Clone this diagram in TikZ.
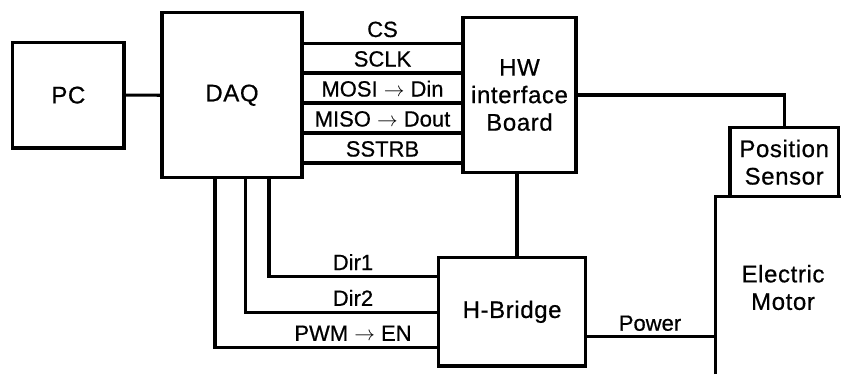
\documentclass[tikz,border=0pt]{standalone}
\usepackage{fontspec}
\setmainfont{Liberation Sans}[FakeBold=0.6]
\newfontfamily\bigfam{Liberation Sans}[FakeBold=0.6,LetterSpace=2.5]
\newcommand\bigfnt{\bigfam\fontsize{24bp}{27.5bp}\selectfont}
\newcommand\smallfnt{\fontsize{22bp}{24bp}\selectfont}
\begin{document}
\begin{tikzpicture}[x=1bp,y=-1bp,line width=3.1bp,line join=miter,
  box/.style={draw,rectangle,inner sep=0pt,align=center,font=\bigfnt},
  sig/.style={anchor=base,font=\smallfnt,inner sep=0pt}]
\useasboundingbox (0,0) rectangle (841,374);
% boxes
\node[box,minimum width=111.3bp,minimum height=105.7bp] (pc) at (68.35,95.15) {PC};
\node[box,minimum width=140bp,minimum height=165bp] (daq) at (232,95.2) {DAQ};
\node[box,minimum width=113bp,minimum height=155.4bp] (hw) at (519.5,95) {HW\\interface\\Board};
\node[box,minimum width=108.3bp,minimum height=69bp] (sensor) at (784.15,162.2) {Position\\Sensor};
\node[box,minimum width=146.8bp,minimum height=108.5bp] (hb) at (512.1,311.75) {H-Bridge};
\node[align=center,font=\bigfnt,inner sep=0pt] (motor) at (783,287.5) {Electric\\Motor};
% motor outline
\coordinate (mtl) at (715.3,196.7);
\coordinate (mbl) at (715.3,374);
\coordinate (mtr) at (841,196.7);
\draw (mbl) -- (mtl) -- (mtr);
% PC - DAQ
\draw (pc.east) -- (daq.west);
% SPI lines
\coordinate (y1) at (0,43.3);
\coordinate (y2) at (0,73);
\coordinate (y3) at (0,103);
\coordinate (y4) at (0,133);
\coordinate (y5) at (0,163);
\draw (daq.east |- y1) -- (hw.west |- y1);
\draw (daq.east |- y2) -- (hw.west |- y2);
\draw (daq.east |- y3) -- (hw.west |- y3);
\draw (daq.east |- y4) -- (hw.west |- y4);
\draw (daq.east |- y5) -- (hw.west |- y5);
\node[sig] (lcs) at (382.5,37) {CS};
\node[sig] (lsclk) at (382.5,66.5) {SCLK};
\node[sig] (lmosi) at (382.5,96.5) {MOSI $\rightarrow$ Din};
\node[sig] (lmiso) at (382.5,126.5) {MISO $\rightarrow$ Dout};
\node[sig] (lsstrb) at (382.5,156.5) {SSTRB};
% HW - sensor
\draw (hw.east) -| (sensor.north);
% HW - H-bridge
\coordinate (hv) at (517,0);
\draw (hw.south -| hv) -- (hb.north -| hv);
% DAQ - H-bridge
\coordinate (d1) at (269,276.7);
\coordinate (d2) at (245.7,312.3);
\coordinate (d3) at (215,347.3);
\draw (daq.south -| d1) |- (hb.west |- d1);
\draw (daq.south -| d2) |- (hb.west |- d2);
\draw (daq.south -| d3) |- (hb.west |- d3);
\node[sig] (ldir1) at (353,270) {Dir1};
\node[sig] (ldir2) at (353,305.8) {Dir2};
\node[sig] (lpwm) at (353,340.8) {PWM $\rightarrow$ EN};
% Power
\coordinate (pw) at (0,336.7);
\draw (hb.east |- pw) -- (mtl |- pw);
\node[sig] (lpow) at (650,330.7) {Power};
\end{tikzpicture}
\end{document}
